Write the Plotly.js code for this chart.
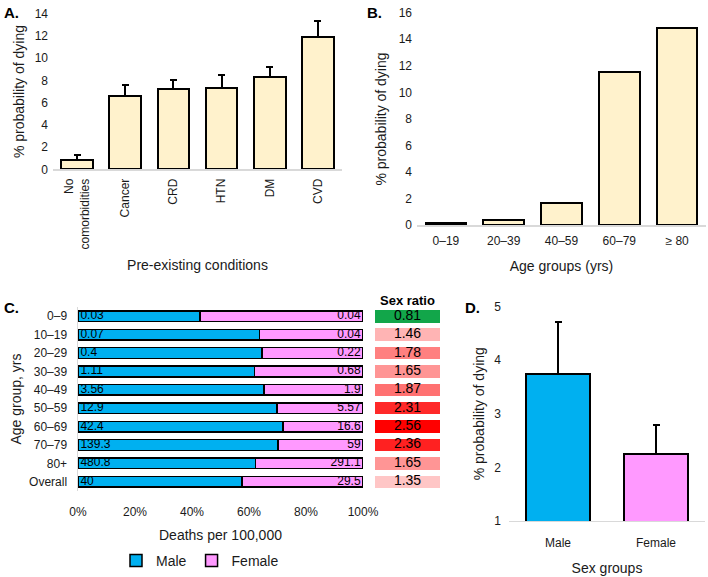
<!DOCTYPE html>
<html>
<head>
<meta charset="utf-8">
<script src="https://cdn.plot.ly/plotly-3.0.1.min.js"></script>
<style>html,body{margin:0;padding:0;background:#fff}#chart{width:708px;height:577px}</style>
</head>
<body>
<div id="chart"></div>
<script>
// ---------- Data ----------
// Panel A
const conditions = ['No<br>comorbidities', 'Cancer', 'CRD', 'HTN', 'DM', 'CVD'];
const conditionValues = [0.85, 6.63, 7.22, 7.28, 8.28, 11.92];
const conditionErrors = [0.47, 1.0, 0.85, 1.2, 0.97, 1.38];
// Panel B
const ageGroupsB = ['0–19', '20–39', '40–59', '60–79', '≥ 80'];
const ageValuesB = [0.18, 0.38, 1.65, 11.56, 14.83];
// Panel C
const ageGroupsC = ['0–9', '10–19', '20–29', '30–39', '40–49', '50–59', '60–69', '70–79', '80+', 'Overall'];
const maleDeaths = [0.03, 0.07, 0.4, 1.11, 3.56, 12.9, 42.4, 139.3, 480.8, 40];
const femaleDeaths = [0.04, 0.04, 0.22, 0.68, 1.9, 5.57, 16.6, 59, 291.1, 29.5];
const sexRatio = [0.81, 1.46, 1.78, 1.65, 1.87, 2.31, 2.56, 2.36, 1.65, 1.35];
// Panel D
const sexGroups = ['Male', 'Female'];
const sexValues = [3.74, 2.24];
const sexErrors = [0.97, 0.55];

// ---------- Styling ----------
const FONT = 'Liberation Sans, Arial, sans-serif';
const CREAM = '#fff2cc', BLUE = '#00b0f0', PINK = '#ff99ff';
const AXLINE = '#d9d9d9';
const TXT = '#1a1a1a';

const maleShare = maleDeaths.map((m, i) => m / (m + femaleDeaths[i]) * 100);
const femaleShare = maleShare.map(s => 100 - s);
const rMin = Math.min(...sexRatio), rMax = Math.max(...sexRatio);
const whitePt = (1 - rMin) / (rMax - rMin);

const upErr = (arr) => ({type: 'data', symmetric: false, array: arr, arrayminus: arr.map(() => 0),
  color: '#000', thickness: 2, width: 3.5});

const traces = [
  {type: 'bar', x: conditions, y: conditionValues, xaxis: 'x', yaxis: 'y', width: 0.66,
   marker: {color: CREAM, line: {color: '#000', width: 2}}, error_y: upErr(conditionErrors), showlegend: false},
  {type: 'bar', x: ageGroupsB, y: ageValuesB, xaxis: 'x2', yaxis: 'y2', width: 0.7,
   marker: {color: CREAM, line: {color: '#000', width: 2}}, showlegend: false},
  {type: 'bar', orientation: 'h', name: 'Male', y: ageGroupsC, x: maleShare, xaxis: 'x3', yaxis: 'y3', width: 0.58,
   marker: {color: BLUE, line: {color: '#000', width: 1.5}}},
  {type: 'bar', orientation: 'h', name: 'Female', y: ageGroupsC, x: femaleShare, xaxis: 'x3', yaxis: 'y3', width: 0.58,
   marker: {color: PINK, line: {color: '#000', width: 1.5}}},
  {type: 'scatter', mode: 'text', y: ageGroupsC, x: maleDeaths.map(() => 0), text: maleDeaths.map(v => '\u2009' + v),
   textposition: 'middle right', textfont: {family: FONT, size: 12, color: '#000'}, xaxis: 'x3', yaxis: 'y3', showlegend: false},
  {type: 'scatter', mode: 'text', y: ageGroupsC, x: femaleDeaths.map(() => 100), text: femaleDeaths.map(v => v + '\u2009'),
   textposition: 'middle left', textfont: {family: FONT, size: 12, color: '#000'}, xaxis: 'x3', yaxis: 'y3', showlegend: false},
  {type: 'bar', orientation: 'h', y: ageGroupsC, x: sexRatio.map(() => 1), xaxis: 'x4', yaxis: 'y3', width: 0.68,
   marker: {color: sexRatio, cmin: rMin, cmax: rMax,
     colorscale: [[0, '#12a64a'], [whitePt, '#ffffff'], [1, '#ff0000']], line: {width: 0}}, showlegend: false},
  {type: 'scatter', mode: 'text', y: ageGroupsC, x: sexRatio.map(() => 0.5), text: sexRatio.map(v => v.toFixed(2)),
   textposition: 'middle center', textfont: {family: FONT, size: 14, color: '#000'}, xaxis: 'x4', yaxis: 'y3', showlegend: false},
  {type: 'bar', x: sexGroups, y: sexValues, xaxis: 'x5', yaxis: 'y5', width: 0.66,
   marker: {color: [BLUE, PINK], line: {color: '#000', width: 2}}, error_y: upErr(sexErrors), showlegend: false}
];

const tickF = {family: FONT, size: 12, color: TXT};
const titleF = {family: FONT, size: 14, color: TXT};
const W = 708, H = 577;
const dx = (a, b) => [a / W, b / W];
const dy = (top, bottom) => [1 - bottom / H, 1 - top / H];

const layout = {
  width: W, height: H,
  margin: {l: 0, r: 0, t: 0, b: 0},
  paper_bgcolor: '#fff', plot_bgcolor: 'rgba(0,0,0,0)',
  font: {family: FONT, color: TXT},
  barmode: 'stack', bargap: 0.3,
  showlegend: true,
  legend: {orientation: 'h', traceorder: 'normal', x: 200 / W, xanchor: 'center', y: 1 - 573 / H, yanchor: 'middle',
    font: {family: FONT, size: 14, color: TXT}, itemwidth: 30, tracegroupgap: 0},
  // Panel A
  xaxis: {domain: dx(53, 342), anchor: 'y', showline: true, linecolor: AXLINE, linewidth: 1.5, ticks: '',
    tickangle: -90, tickfont: tickF, ticklabelstandoff: 3, title: {text: 'Pre-existing conditions', font: titleF, standoff: 12}},
  yaxis: {domain: dy(14, 173), anchor: 'x', range: [0, 14], dtick: 2, showgrid: false, zeroline: false, ticks: '',
    tickfont: tickF, ticklabelstandoff: 4, title: {text: '% probability of dying', font: titleF, standoff: 6}},
  // Panel B
  xaxis2: {domain: dx(417, 706), anchor: 'y2', showline: true, linecolor: AXLINE, linewidth: 1.5, ticks: '',
    tickfont: tickF, ticklabelstandoff: 4, title: {text: 'Age groups (yrs)', font: titleF, standoff: 14}},
  yaxis2: {domain: dy(13, 230), anchor: 'x2', range: [0, 16], dtick: 2, showgrid: false, zeroline: false, ticks: '',
    tickfont: tickF, ticklabelstandoff: 4, title: {text: '% probability of dying', font: titleF, standoff: 8}},
  // Panel C
  xaxis3: {domain: dx(78, 363), anchor: 'y3', range: [0, 100], dtick: 20, ticksuffix: '%', showgrid: false,
    zeroline: false, showline: false, ticks: '', tickfont: tickF, ticklabelstandoff: 12,
    title: {text: 'Deaths per 100,000', font: titleF, standoff: 12}},
  yaxis3: {domain: dy(313.6, 501.4), anchor: 'x3', type: 'category', autorange: 'reversed', showline: true,
    linecolor: AXLINE, linewidth: 1.5, ticks: '', tickfont: tickF, ticklabelstandoff: 7,
    title: {text: 'Age group, yrs', font: titleF, standoff: 4}},
  xaxis4: {domain: dx(375, 440), anchor: 'y3', range: [0, 1], visible: false, fixedrange: true},
  // Panel D
  xaxis5: {domain: dx(509, 705), anchor: 'y5', showline: true, linecolor: AXLINE, linewidth: 1.5, ticks: '',
    tickfont: tickF, ticklabelstandoff: 10, title: {text: 'Sex groups', font: titleF, standoff: 14}},
  yaxis5: {domain: dy(313, 532), anchor: 'x5', range: [1, 5], dtick: 1, showgrid: false, zeroline: false, ticks: '',
    tickfont: tickF, ticklabelstandoff: 7, title: {text: '% probability of dying', font: titleF, standoff: 6}},
  annotations: [
    {text: '<b>A.</b>', x: 2 / W, y: 1 - 2 / H, xref: 'paper', yref: 'paper', xanchor: 'left', yanchor: 'top', showarrow: false, font: {family: FONT, size: 15, color: '#000'}},
    {text: '<b>B.</b>', x: 365 / W, y: 1 - 2 / H, xref: 'paper', yref: 'paper', xanchor: 'left', yanchor: 'top', showarrow: false, font: {family: FONT, size: 15, color: '#000'}},
    {text: '<b>C.</b>', x: 2 / W, y: 1 - 303 / H, xref: 'paper', yref: 'paper', xanchor: 'left', yanchor: 'top', showarrow: false, font: {family: FONT, size: 15, color: '#000'}},
    {text: '<b>D.</b>', x: 463 / W, y: 1 - 303 / H, xref: 'paper', yref: 'paper', xanchor: 'left', yanchor: 'top', showarrow: false, font: {family: FONT, size: 15, color: '#000'}},
    {text: '<b>Sex ratio</b>', x: 407.5 / W, y: 1 - 307 / H, xref: 'paper', yref: 'paper', xanchor: 'center', yanchor: 'middle', showarrow: false, font: {family: FONT, size: 13, color: '#000'}}
  ]
};

Plotly.newPlot('chart', traces, layout, {staticPlot: true, displayModeBar: false});
</script>
</body>
</html>
